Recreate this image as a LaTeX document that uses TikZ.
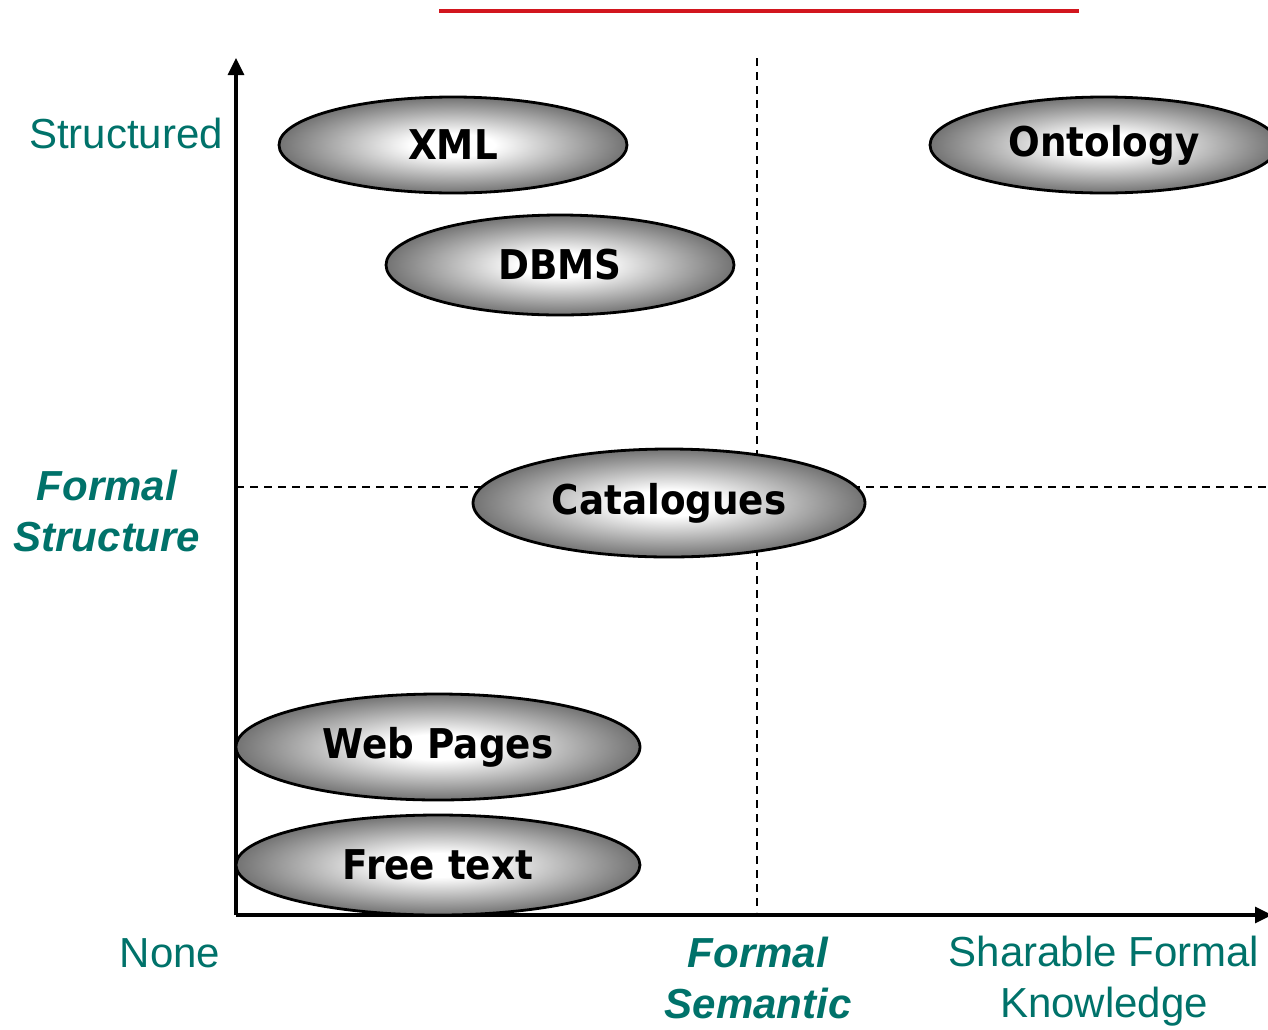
\documentclass[tikz,border=0pt]{standalone}
\usepackage{fontspec}
\setmainfont{Liberation Sans}
\newfontfamily\ellfont[FakeStretch=0.91]{DejaVu Sans}
\usetikzlibrary{shapes.geometric,arrows.meta}
\definecolor{teal}{RGB}{0,114,106}
\definecolor{rule}{RGB}{210,22,30}
% white core fading to mid grey at the rim of the ellipse (rim = 25bp)
\pgfdeclareradialshading{ellshade}{\pgfpoint{0bp}{0bp}}{%
  color(0bp)=(white); color(6bp)=(white); color(25bp)=(black!55); color(50bp)=(black!55)}
\tikzset{
  blob/.style={ellipse, draw=black, line width=2.8pt, shading=ellshade,
    inner sep=0pt, font=\ellfont\bfseries\fontsize{41}{48}\selectfont},
  axislabel/.style={text=teal, align=center, inner sep=0pt,
    font=\fontsize{42}{51}\selectfont},
  axisbold/.style={axislabel, font=\fontsize{42}{51}\selectfont\bfseries\itshape},
  axisline/.style={line width=3.2pt, -{Triangle[length=17pt,width=16pt]}},
  guide/.style={line width=2.6pt, dash pattern=on 8pt off 6pt}
}
\begin{document}
\begin{tikzpicture}[x=1pt,y=-1pt]
\useasboundingbox (0,0) rectangle (1268,1029);

% title rule
\draw[rule, line width=3.8pt] (439,11) -- (1079,11);

% quadrant guides
\coordinate (vtop) at (757,58);
\coordinate (vbot) at (757,912);
\coordinate (hleft) at (236,487);
\coordinate (hright) at (1270,487);
\draw[guide] (vtop) -- (vbot);
\draw[guide] (hleft) -- (hright);

% axes
\coordinate (origin) at (236,915);
\coordinate (ytip) at (236,58);
\coordinate (xtip) at (1272,915);
\draw[axisline] (origin) -- (ytip);
\draw[axisline] (origin) -- (xtip);

% technologies
\node[blob, minimum width=348pt, minimum height=96pt] (xml) at (453,145) {XML};
\node[blob, minimum width=348pt, minimum height=96pt] (onto) at (1104,145) {Ontology};
\node[blob, minimum width=348pt, minimum height=100pt] (dbms) at (560,265) {DBMS};
\node[blob, minimum width=392pt, minimum height=108pt] (cat) at (669,503) {Catalogues};
\node[blob, minimum width=404pt, minimum height=106pt] (web) at (438,747) {Web Pages};
\node[blob, minimum width=404pt, minimum height=100pt] (free) at (438,865) {Free text};

% axis labels
\node[axislabel] (structured) at (126,133) {Structured};
\node[axisbold] (fstruct) at (107,511) {Formal\\Structure};
\node[axislabel] (none) at (170,953) {None};
\node[axisbold] (fsem) at (758,978) {Formal\\Semantic};
\node[axislabel] (share) at (1104,981) {Sharable Formal\\Knowledge};
\end{tikzpicture}
\end{document}
